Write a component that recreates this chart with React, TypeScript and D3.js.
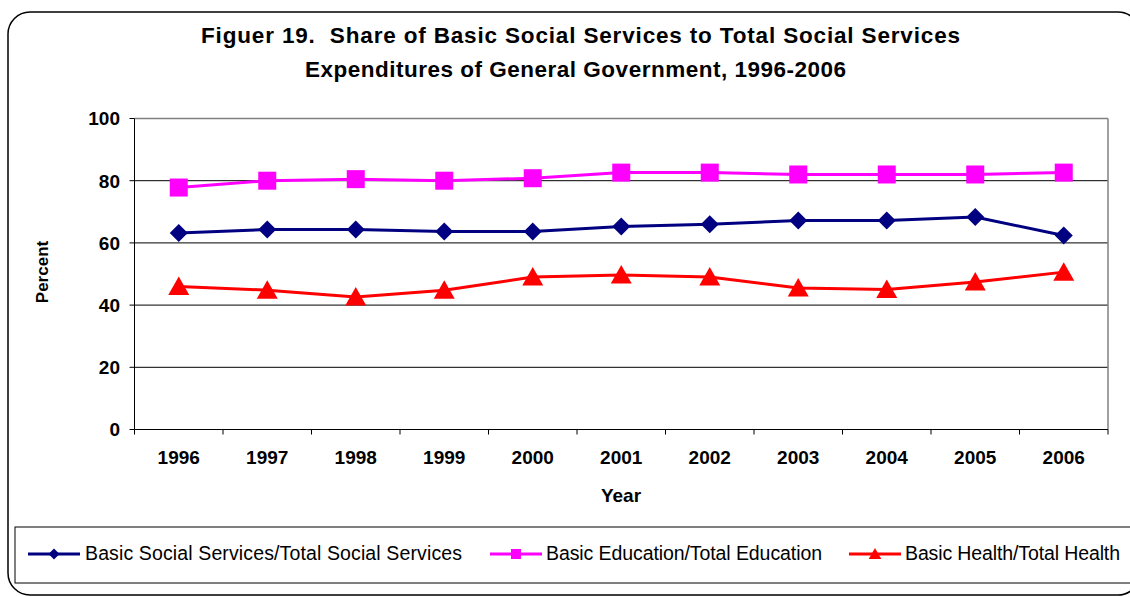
import React from "react";
import * as d3 from "d3";

const years = ["1996", "1997", "1998", "1999", "2000", "2001", "2002", "2003", "2004", "2005", "2006"];
const socialServices = [63.2, 64.3, 64.3, 63.7, 63.7, 65.3, 66.0, 67.2, 67.2, 68.3, 62.4];
const education = [77.8, 80.0, 80.5, 80.0, 80.8, 82.6, 82.6, 82.0, 82.0, 82.0, 82.6];
const health = [46.0, 44.8, 42.6, 44.8, 49.0, 49.7, 49.0, 45.5, 45.0, 47.4, 50.6];
const yTicks = [0, 20, 40, 60, 80, 100];
const seriesNames = [
  "Basic Social Services/Total Social Services",
  "Basic Education/Total Education",
  "Basic Health/Total Health",
];
const titleLines = [
  "Figuer 19.  Share of Basic Social Services to Total Social Services",
  "Expenditures of General Government, 1996-2006",
];

const W = 1130;
const H = 597;
const plot = { left: 134.5, right: 1108, top: 118.5, bottom: 429.5 };
const FONT = "'Liberation Sans', Arial, sans-serif";

function Marker({ kind, x, y, s, color }: { kind: string; x: number; y: number; s: number; color: string }) {
  if (kind === "diamond") {
    return <path d={`M${x},${y - s}L${x + s},${y}L${x},${y + s}L${x - s},${y}Z`} fill={color} />;
  }
  if (kind === "square") {
    return <rect x={x - s} y={y - s} width={2 * s} height={2 * s} fill={color} />;
  }
  return <path d={`M${x},${y - s}L${x + s * 1.05},${y + s * 0.85}L${x - s * 1.05},${y + s * 0.85}Z`} fill={color} />;
}

export default function App() {
  const x = d3.scaleBand<string>().domain(years).range([plot.left, plot.right]);
  const y = d3.scaleLinear().domain([0, 100]).range([plot.bottom, plot.top]);
  const cx = (d: string) => (x(d) as number) + x.bandwidth() / 2;

  const series = [
    { name: seriesNames[0], values: socialServices, color: "#000080", kind: "diamond", s: 9, ls: 5.5 },
    { name: seriesNames[1], values: education, color: "#FF00FF", kind: "square", s: 9, ls: 5 },
    { name: seriesNames[2], values: health, color: "#FF0000", kind: "triangle", s: 10, ls: 6 },
  ];

  const line = d3
    .line<number>()
    .x((_, i) => cx(years[i]))
    .y((v) => y(v));

  const legendItems = [
    { x0: 28, text: 85, len: 377 },
    { x0: 490, text: 546, len: 276 },
    { x0: 849, text: 905, len: 215 },
  ];

  return (
    <svg width={W} height={H} style={{ position: "absolute", left: 0, top: 0 }} fontFamily={FONT}>
      <rect x={0} y={0} width={W} height={H} fill="#fff" />
      {/* outer rounded frame */}
      <rect x={8} y={12} width={1132} height={583} rx={22} ry={22} fill="#fff" stroke="#000" strokeWidth={1.5} />

      {/* title */}
      <text x={201} y={43} fontSize={22.5} fontWeight="bold" fill="#000" textLength={759} lengthAdjust="spacing" style={{ whiteSpace: "pre" }}>
        {titleLines[0]}
      </text>
      <text x={305} y={77} fontSize={22.5} fontWeight="bold" fill="#000" textLength={541} lengthAdjust="spacing">
        {titleLines[1]}
      </text>

      {/* gridlines */}
      {yTicks.filter((t) => t > 0 && t < 100).map((t) => (
        <line key={t} x1={plot.left} x2={plot.right} y1={y(t)} y2={y(t)} stroke="#000" strokeWidth={1} />
      ))}
      {/* plot frame */}
      <line x1={plot.left} x2={plot.right} y1={plot.top} y2={plot.top} stroke="#808080" strokeWidth={1.5} />
      <line x1={plot.right} x2={plot.right} y1={plot.top} y2={plot.bottom} stroke="#808080" strokeWidth={1.5} />
      <line x1={plot.left} x2={plot.left} y1={plot.top} y2={plot.bottom} stroke="#000" strokeWidth={1} />
      <line x1={plot.left} x2={plot.right} y1={plot.bottom} y2={plot.bottom} stroke="#000" strokeWidth={1} />

      {/* y ticks */}
      {yTicks.map((t) => (
        <g key={t}>
          <line x1={plot.left - 5} x2={plot.left} y1={y(t)} y2={y(t)} stroke="#000" />
          <text x={120} y={y(t)} dy="0.36em" textAnchor="end" fontSize={19} fontWeight="bold">
            {t}
          </text>
        </g>
      ))}
      {/* x ticks */}
      {years.map((yr) => (
        <line key={"t" + yr} x1={x(yr)} x2={x(yr)} y1={plot.bottom} y2={plot.bottom + 5} stroke="#000" />
      ))}
      <line x1={plot.right} x2={plot.right} y1={plot.bottom} y2={plot.bottom + 5} stroke="#000" />
      {years.map((yr) => (
        <text key={yr} x={cx(yr)} y={464} textAnchor="middle" fontSize={19} fontWeight="bold">
          {yr}
        </text>
      ))}

      <text x={621} y={502} textAnchor="middle" fontSize={19} fontWeight="bold">
        Year
      </text>
      <text transform="translate(48,272) rotate(-90)" textAnchor="middle" fontSize={17} fontWeight="bold">
        Percent
      </text>

      {/* series */}
      {series.map((s) => (
        <g key={s.name}>
          <path d={line(s.values) as string} fill="none" stroke={s.color} strokeWidth={3} />
          {s.values.map((v, i) => (
            <Marker key={i} kind={s.kind} x={cx(years[i])} y={y(v)} s={s.s} color={s.color} />
          ))}
        </g>
      ))}

      {/* legend */}
      <rect x={15} y={527} width={1130} height={56} fill="#fff" stroke="#000" strokeWidth={1} />
      {series.map((s, i) => {
        const li = legendItems[i];
        return (
          <g key={"l" + s.name}>
            <line x1={li.x0} x2={li.x0 + 52} y1={554} y2={554} stroke={s.color} strokeWidth={3} />
            <Marker kind={s.kind} x={li.x0 + 26} y={554} s={s.ls} color={s.color} />
            <text x={li.text} y={560} fontSize={19.5} textLength={li.len} lengthAdjust="spacing">
              {s.name}
            </text>
          </g>
        );
      })}
    </svg>
  );
}
